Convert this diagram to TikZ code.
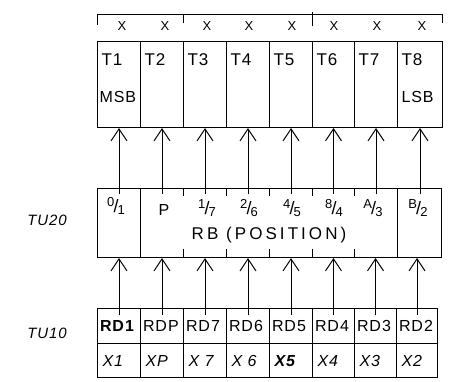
\documentclass[tikz,border=0pt]{standalone}
\usepackage{fontspec}
\setmainfont{Liberation Sans}[LetterSpace=6]
\newfontfamily\widefont{Liberation Sans}[LetterSpace=18]
\usetikzlibrary{arrows.meta}
\newcommand{\myfr}[2]{\raisebox{0.36em}{\fontsize{13}{13}\selectfont #1}\kern-0.8pt{\fontsize{18}{18}\selectfont/}\kern-0.8pt\raisebox{-0.14em}{\fontsize{13}{13}\selectfont #2}}
\begin{document}
\begin{tikzpicture}[x=1pt,y=-1pt,line width=1pt,
  box/.style={draw,line width=1pt,anchor=north west,inner sep=0,minimum height=#1},
  tl/.style={font=\fontsize{17}{17}\selectfont,inner sep=0,anchor=west},
  ml/.style={font=\fontsize{16}{16}\selectfont,inner sep=0,anchor=west},
  xl/.style={font=\fontsize{13}{13}\selectfont,inner sep=0},
  rl/.style={font=\fontsize{16}{16}\selectfont,inner sep=0},
  side/.style={font=\itshape\fontsize{15}{15}\selectfont,inner sep=0},
  arr/.style={-{Straight Barb[length=12pt,width=16pt,line width=1pt]},line width=1pt}]
\useasboundingbox (0,0) rectangle (458,381);
% top bracket
\draw (97,25) -- (97,14) -- (442,14) -- (442,23);
\draw (183,14) -- (183,23);
\draw (312,12) -- (312,26);
\foreach \i/\xc in {1/122,2/165,3/207,4/249,5/292,6/334,7/377,8/422}
  \node[xl] (xt\i) at (\xc,26) {X};
% T boxes
\foreach \i/\xl/\xr in {1/97/140,2/140/183,3/183/226,4/226/269,5/269/312,6/312/354,7/354/397,8/397/442}{
  \node[box=86,minimum width={\xr-\xl}] (t\i) at (\xl,41) {};
  \node[tl] (tl\i) at (\xl+4,60) {T\i};
}
\node[ml] (msb) at (99,97) {MSB};
\node[ml] (lsb) at (401,97) {LSB};
% RB box
\node[box=69,minimum width=344] (rb) at (97,188) {};
\draw (140,188) -- (140,257);
\draw (397,188) -- (397,257);
\foreach \xx in {183,226,269,312,354}{
  \draw (\xx,188) -- (\xx,196);
  \draw (\xx,257) -- (\xx,249);
}
\node[rl] (r1) at (116,206) {\myfr{0}{1}};
\node[rl] (r2) at (164,210) {P};
\node[rl] (r3) at (207,208) {\myfr{1}{7}};
\node[rl] (r4) at (249,208) {\myfr{2}{6}};
\node[rl] (r5) at (292,208) {\myfr{4}{5}};
\node[rl] (r6) at (334,208) {\myfr{8}{4}};
\node[rl] (r7) at (373,208) {\myfr{A}{3}};
\node[rl] (r8) at (418,208) {\myfr{B}{2}};
\node[rl,font=\widefont\fontsize{17}{17}\selectfont] (rbt) at (269,235) {RB (POSITION)};
% upper arrows
\foreach \i in {1,...,8}
  \draw[arr] ([yshift=-6pt]rb.north -| t\i.south) -- (t\i.south);
% lower boxes
\foreach \i/\xl/\xr/\rd/\xx in {1/97/140/\textbf{RD1}/X1,2/140/183/RDP/XP,3/183/226/RD7/X 7,4/226/269/RD6/X 6,5/269/312/RD5/\textbf{X5},6/312/354/RD4/X4,7/354/396/RD3/X3,8/396/437/RD2/X2}{
  \node[box=35,minimum width={\xr-\xl}] (rd\i) at (\xl,308) {};
  \node[box=34,minimum width={\xr-\xl}] (xb\i) at (\xl,343) {};
  \node[ml] (rdl\i) at (\xl+2.5,326) {\rd};
  \node[ml,font=\itshape\fontsize{16}{16}\selectfont] (xbl\i) at (\xl+5,361) {\xx};
}
% lower arrows
\foreach \i in {1,...,8}
  \draw[arr] ([yshift=-7pt]rd\i.north) -- (rd\i.north |- rb.south);
% side labels
\node[side] (tu20) at (47,220) {TU20};
\node[side] (tu10) at (47,333) {TU10};
\end{tikzpicture}
\end{document}
